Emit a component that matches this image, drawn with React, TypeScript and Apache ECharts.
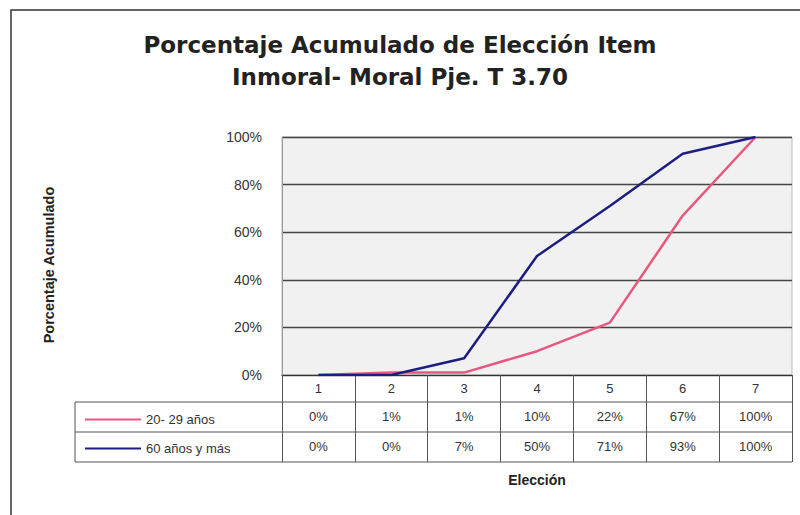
import React, { useEffect, useRef } from "react";
import * as echarts from "echarts";

const categories = ["1", "2", "3", "4", "5", "6", "7"];
const seriesNames = ["20- 29 años", "60 años y más"];
const young = [0, 1, 1, 10, 22, 67, 100];
const old = [0, 0, 7, 50, 71, 93, 100];
const yTicks = [0, 20, 40, 60, 80, 100];

const GRID = { left: 282, right: 8, top: 137, bottom: 140 };
const ROW = 30;
const HEADER = 27;

export default function App() {
  const ref = useRef<HTMLDivElement>(null);
  useEffect(() => {
    if (!ref.current) return;
    const chart = echarts.init(ref.current, null, { renderer: "svg" });
    const W = 800;
    const H = 515;
    const axisY = H - GRID.bottom;
    const tableLeft = 75;
    const tableRight = W - GRID.right;
    const lineStyle = { stroke: "#555", lineWidth: 1 };
    const hLines = [axisY + HEADER, axisY + HEADER + ROW, axisY + HEADER + 2 * ROW].map((y) => ({
      type: "line",
      shape: { x1: tableLeft, y1: y, x2: tableRight, y2: y },
      style: lineStyle,
      silent: true,
    }));
    const font = "'Liberation Sans', Arial, sans-serif";
    chart.setOption({
      animation: false,
      backgroundColor: "#fff",
      title: {
        text: "Porcentaje Acumulado de Elección Item\nInmoral- Moral Pje. T 3.70",
        left: "center",
        top: 24,
        textStyle: {
          fontFamily: "'DejaVu Sans', sans-serif",
          fontSize: 23,
          fontWeight: "bold",
          color: "#222",
          lineHeight: 32,
        },
      },
      legend: {
        orient: "vertical",
        left: 80,
        top: axisY + HEADER + 6,
        itemWidth: 56,
        itemHeight: 2,
        itemGap: 16,
        icon: "rect",
        data: seriesNames,
        textStyle: { fontFamily: font, fontSize: 13, color: "#333" },
      },
      grid: {
        left: GRID.left,
        right: GRID.right,
        top: GRID.top,
        bottom: GRID.bottom,
        show: true,
        backgroundColor: "#f1f1f1",
        borderColor: "#bbb",
        borderWidth: 1,
      },
      xAxis: [
        {
          type: "category",
          data: categories,
          boundaryGap: true,
          position: "bottom",
          axisLine: { lineStyle: { color: "#333", width: 1.2 } },
          axisTick: { show: true, length: HEADER + 2 * ROW, lineStyle: { color: "#555", width: 1 } },
          axisLabel: { margin: 7, fontSize: 13, color: "#333", fontFamily: font },
        },
        {
          type: "category",
          data: categories,
          position: "bottom",
          offset: HEADER,
          axisLine: { show: false },
          axisTick: { show: false },
          axisLabel: {
            margin: 8,
            fontSize: 13,
            color: "#333",
            fontFamily: font,
            formatter: (_v: string, i: number) => young[i] + "%",
          },
        },
        {
          type: "category",
          data: categories,
          position: "bottom",
          offset: HEADER + ROW,
          axisLine: { show: false },
          axisTick: { show: false },
          axisLabel: {
            margin: 8,
            fontSize: 13,
            color: "#333",
            fontFamily: font,
            formatter: (_v: string, i: number) => old[i] + "%",
          },
          name: "Elección",
          nameLocation: "middle",
          nameGap: 41,
          nameTextStyle: { fontSize: 14, fontWeight: "bold", color: "#222", fontFamily: font },
        },
      ],
      yAxis: {
        type: "value",
        min: yTicks[0],
        max: yTicks[yTicks.length - 1],
        interval: 20,
        axisLine: { show: true, lineStyle: { color: "#999" } },
        axisTick: { show: false },
        axisLabel: { formatter: "{value}%", fontSize: 14, color: "#333", margin: 20, fontFamily: font },
        splitLine: { lineStyle: { color: "#444", width: 1.3 } },
      },
      series: [
        {
          name: seriesNames[0],
          type: "line",
          data: young,
          symbol: "none",
          lineStyle: { color: "#e8577f", width: 2.5 },
          itemStyle: { color: "#e8577f" },
        },
        {
          name: seriesNames[1],
          type: "line",
          data: old,
          symbol: "none",
          lineStyle: { color: "#1e1e82", width: 2.5 },
          itemStyle: { color: "#1e1e82" },
        },
      ],
      graphic: [
        {
          type: "rect",
          shape: { x: 11, y: 10, width: 800, height: 520 },
          style: { fill: "none", stroke: "#333", lineWidth: 1.5 },
          silent: true,
        },
        ...hLines,
        {
          type: "line",
          shape: { x1: tableLeft, y1: axisY + HEADER, x2: tableLeft, y2: axisY + HEADER + 2 * ROW },
          style: lineStyle,
          silent: true,
        },
        {
          type: "text",
          x: 49,
          y: 265,
          rotation: Math.PI / 2,
          style: {
            text: "Porcentaje Acumulado",
            fontSize: 14.5,
            fontWeight: "bold",
            fontFamily: font,
            fill: "#222",
            align: "center",
            verticalAlign: "middle",
          },
          silent: true,
        },
      ],
    });
    return () => chart.dispose();
  }, []);
  return (
    <div
      ref={ref}
      style={{ position: "absolute", left: 0, top: 0, width: 800, height: 515 }}
    />
  );
}
